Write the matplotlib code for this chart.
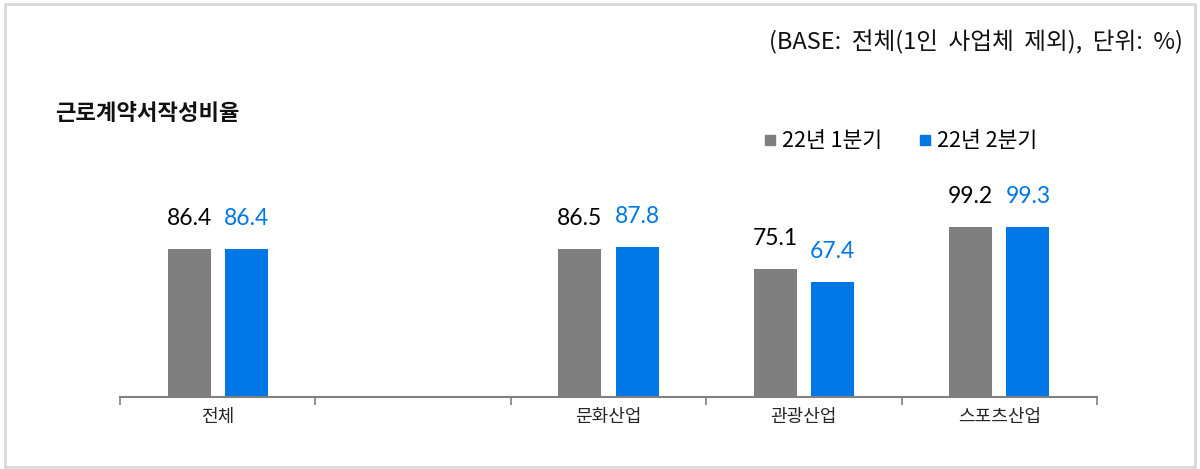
import numpy as np
import matplotlib.pyplot as plt
from matplotlib.patches import Rectangle

plt.rcParams['font.family'] = ['Noto Sans CJK KR', 'DejaVu Sans']

categories = ['전체', '', '문화산업', '관광산업', '스포츠산업']
q1 = [86.4, None, 86.5, 75.1, 99.2]
q2 = [86.4, None, 87.8, 67.4, 99.3]
series_names = ['22년 1분기', '22년 2분기']

gray = '#7f7f7f'
blue = '#0077e6'

fig = plt.figure(figsize=(12, 4.69), dpi=100)
fig.patches.append(Rectangle((0.004, 0.004), 0.992, 0.988, transform=fig.transFigure,
                             fill=False, edgecolor='#d9d9d9', linewidth=2))

ax = fig.add_axes([0.1, 0.1535, 0.8142, 0.547])
x = np.arange(len(categories))
w = 0.22
off = 0.146

for i in range(len(categories)):
    if q1[i] is None:
        continue
    ax.bar(x[i] - off, q1[i], w, color=gray)
    ax.bar(x[i] + off, q2[i], w, color=blue)
    ax.annotate(f'{q1[i]:.1f}', (x[i] - off, q1[i]), xytext=(0, 22), textcoords='offset points',
                ha='center', va='center', fontsize=16.5, color='black', family=['Lato', 'DejaVu Sans'])
    ax.annotate(f'{q2[i]:.1f}', (x[i] + off, q2[i]), xytext=(0, 22), textcoords='offset points',
                ha='center', va='center', fontsize=16.5, color=blue, family=['Lato', 'DejaVu Sans'])

ax.set_xlim(-0.5, len(categories) - 0.5)
ax.set_ylim(0, 150)
ax.set_xticks(x)
ax.set_xticklabels(categories, fontsize=13, color='#262626')
ax.tick_params(axis='x', length=0, pad=8)
ax.set_xticks(np.arange(len(categories) + 1) - 0.5, minor=True)
ax.tick_params(axis='x', which='minor', length=6, color='#808080', width=1.2)
ax.set_yticks([])
for s in ['top', 'right', 'left']:
    ax.spines[s].set_visible(False)
ax.spines['bottom'].set_color('#808080')
ax.spines['bottom'].set_linewidth(1.5)

fig.text(0.046, 0.757, '근로계약서작성비율', fontsize=16, fontweight='bold', va='center', ha='left', color='#111111')
fig.text(0.986, 0.91, '(BASE:  전체(1인  사업체  제외),  단위:  %)', fontsize=17, ha='right', va='center', color='#111111')

# legend
lx = [0.6375, 0.7667]
for j, (name, c) in enumerate(zip(series_names, [gray, blue])):
    fig.patches.append(Rectangle((lx[j], 0.69), 0.0085, 0.0215, transform=fig.transFigure, color=c))
    fig.text(lx[j] + 0.014, 0.70, name, fontsize=15.5, ha='left', va='center', color='black')

fig.savefig('out.png', dpi=100)
